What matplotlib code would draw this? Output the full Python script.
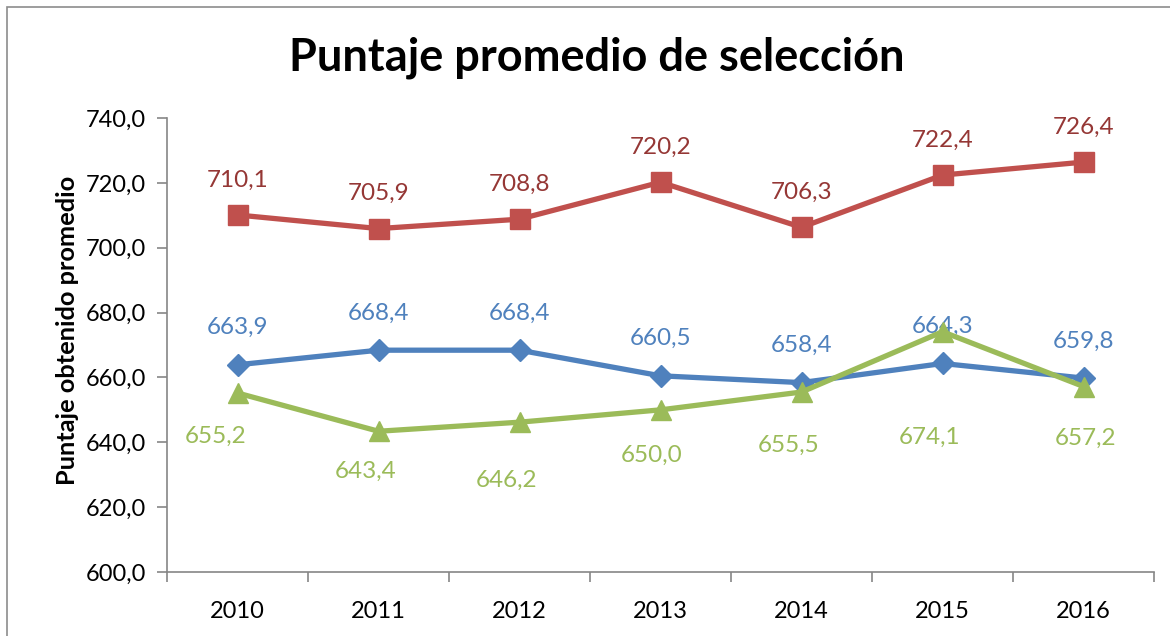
import numpy as np
import matplotlib.pyplot as plt
from matplotlib.patches import Rectangle

# Datos
anios = ['2010', '2011', '2012', '2013', '2014', '2015', '2016']
serie_roja = [710.1, 705.9, 708.8, 720.2, 706.3, 722.4, 726.4]
serie_azul = [663.9, 668.4, 668.4, 660.5, 658.4, 664.3, 659.8]
serie_verde = [655.2, 643.4, 646.2, 650.0, 655.5, 674.1, 657.2]

# desplazamiento de las etiquetas verdes (px), movidas a mano en el original
desp_verde = [(-22, -43), (-13, -40), (-13, -58), (-9, -45), (-13, -53), (-13, -106), (2, -52)]

plt.rcParams['font.family'] = ['Lato', 'DejaVu Sans']

fig = plt.figure(figsize=(11.7, 6.36), dpi=100)
ax = fig.add_axes([167/1170, 1 - 572/636, (1154 - 167)/1170, (572 - 118)/636])

# marco de la figura
fig.patches.append(Rectangle((7/1170, -0.05), 1.2, 1 - 7/636 + 0.05,
                             transform=fig.transFigure, fill=False,
                             edgecolor='#8c8c8c', linewidth=1.2))

x = np.arange(len(anios))
px = 72 / 100  # pixeles -> puntos

ax.plot(x, serie_roja, color='#C0504D', linewidth=3.8, marker='s', markersize=14, zorder=3)
ax.plot(x, serie_azul, color='#4F81BD', linewidth=3.8, marker='D', markersize=11, zorder=3)
ax.plot(x, serie_verde, color='#9BBB59', linewidth=3.8, marker='^', markersize=14, zorder=4)

def fmt(v):
    return f"{v:.1f}".replace('.', ',')

for i in range(len(anios)):
    ax.annotate(fmt(serie_roja[i]), (x[i], serie_roja[i]), xytext=(0, 35 * px),
                textcoords='offset points', ha='center', va='center',
                fontsize=17.5, color='#953735')
    ax.annotate(fmt(serie_azul[i]), (x[i], serie_azul[i]), xytext=(0, 37 * px),
                textcoords='offset points', ha='center', va='center',
                fontsize=17.5, color='#4F81BD')
    dx, dy = desp_verde[i]
    ax.annotate(fmt(serie_verde[i]), (x[i], serie_verde[i]), xytext=(dx * px, dy * px),
                textcoords='offset points', ha='center', va='center',
                fontsize=17.5, color='#9BBB59')

ax.set_xlim(-0.5, len(anios) - 0.5)
ax.set_ylim(600, 740)
ax.set_yticks(np.arange(600, 741, 20))
ax.set_yticklabels([fmt(v) for v in np.arange(600, 741, 20)], fontsize=17)
ax.set_xticks(x)
ax.set_xticklabels(anios, fontsize=17)
ax.set_xticks(np.arange(-0.5, len(anios), 1), minor=True)
ax.tick_params(axis='x', which='major', length=0, pad=21)
ax.tick_params(axis='x', which='minor', length=7, color='#868686', width=1.2)
ax.tick_params(axis='y', length=7, color='#868686', width=1.2, pad=8)

for s in ['top', 'right']:
    ax.spines[s].set_visible(False)
for s in ['left', 'bottom']:
    ax.spines[s].set_color('#868686')
    ax.spines[s].set_linewidth(1.2)

ax.set_ylabel('Puntaje obtenido promedio', fontsize=18.3, fontweight='bold')
ax.yaxis.set_label_coords(-0.089, 0.533)
fig.text(597/1170, 1 - 58/636, 'Puntaje promedio de selección', ha='center', va='center',
         fontsize=32.5, fontweight='bold')

fig.savefig('out.png', dpi=100)
